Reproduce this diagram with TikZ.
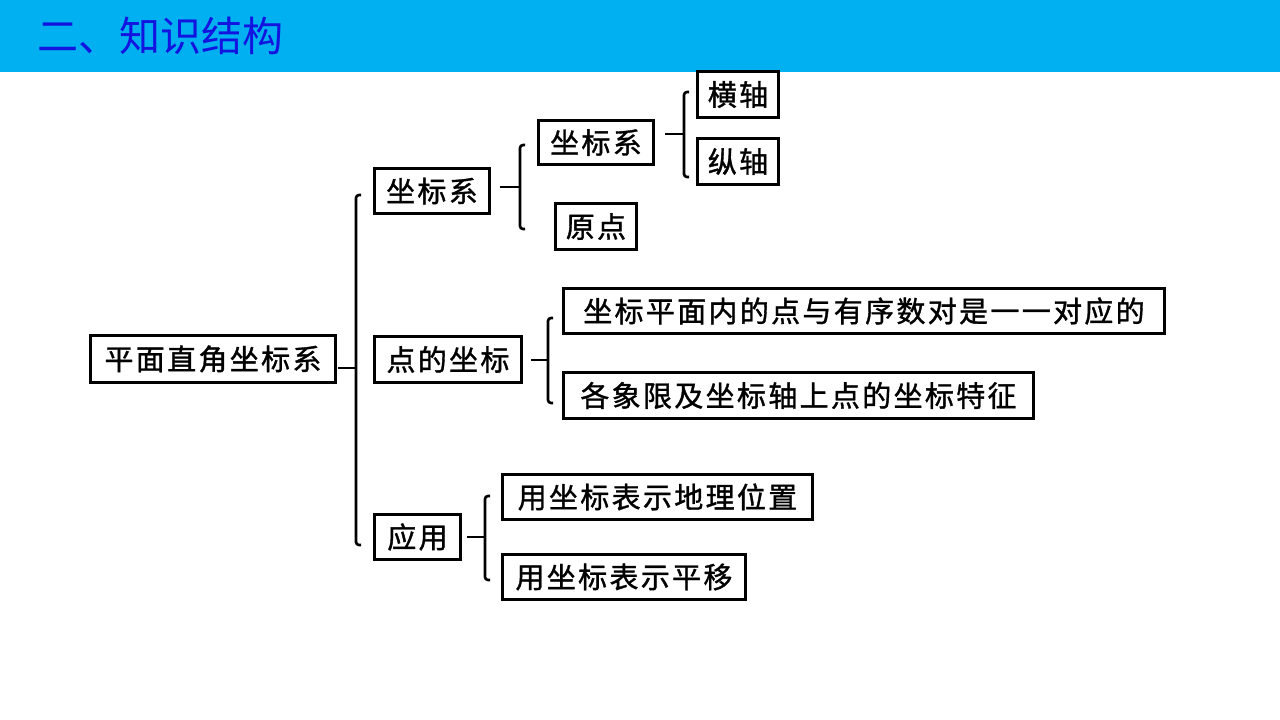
\documentclass[tikz,border=0pt]{standalone}
\usepackage{fontspec}
\newfontfamily\cjk[LetterSpace=8,FakeBold=1.2]{Noto Sans CJK SC}
\newfontfamily\cjktitle{Noto Sans CJK SC}
\definecolor{band}{RGB}{0,176,240}
\definecolor{titleblue}{RGB}{20,20,225}
\begin{document}
\begin{tikzpicture}[x=1pt,y=-1pt,
  box/.style={draw=black,line width=3pt,inner sep=0pt,minimum height=45pt,font=\cjk\fontsize{29}{31}\selectfont},
  brk/.style={line width=2.6pt,rounded corners=3pt}]
\useasboundingbox (0,0) rectangle (1280,720);
\fill[white] (0,0) rectangle (1280,720);
\fill[band] (0,0) rectangle (1280,72);
\node[anchor=west,text=titleblue,font=\cjktitle\fontsize{41}{44}\selectfont,inner sep=0pt] (title) at (37,36) {二、知识结构};
% nodes
\node[box,minimum width=245pt,minimum height=47pt] (root) at (213,359) {平面直角坐标系};
\node[box,minimum width=115pt] (A) at (432,191) {坐标系};
\node[box,minimum width=147pt,minimum height=46pt] (B) at (448,359.5) {点的坐标};
\node[box,minimum width=86pt] (C) at (417.5,537) {应用};
\node[box,minimum width=115pt,minimum height=44pt] (A1) at (596,142.5) {坐标系};
\node[box,minimum width=81pt,minimum height=46pt] (A2) at (596,226.5) {原点};
\node[box,minimum width=81pt,minimum height=46pt] (A11) at (738,94.5) {横轴};
\node[box,minimum width=81pt,minimum height=46pt] (A12) at (738,161.5) {纵轴};
\node[box,minimum width=601pt] (B1) at (864,311) {坐标平面内的点与有序数对是一一对应的};
\node[box,minimum width=470pt,minimum height=46pt] (B2) at (798.5,395.5) {各象限及坐标轴上点的坐标特征};
\node[box,minimum width=310pt] (C1) at (657.5,497) {用坐标表示地理位置};
\node[box,minimum width=243pt] (C2) at (624,577) {用坐标表示平移};
% bracket coordinates
\coordinate (r0) at (356,368);
\coordinate (a0) at (520,187);
\coordinate (a10) at (684,134);
\coordinate (b0) at (548,360);
\coordinate (c0) at (485,537);
% brackets
\draw[line width=2.6pt] ([xshift=1pt]root.east|-r0) -- (r0);
\draw[brk] (361,195) -- (356,195) -- (356,545) -- (361,545);
\draw[line width=2.6pt] ([xshift=9pt]A.east|-a0) -- (a0);
\draw[brk] (525,145) -- (520,145) -- (520,229) -- (525,229);
\draw[line width=2.6pt] ([xshift=10pt]A1.east|-a10) -- (a10);
\draw[brk] (689,92) -- (684,92) -- (684,177) -- (689,177);
\draw[line width=2.6pt] ([xshift=8pt]B.east|-b0) -- (b0);
\draw[brk] (553,318) -- (548,318) -- (548,403) -- (553,403);
\draw[line width=2.6pt] ([xshift=5pt]C.east|-c0) -- (c0);
\draw[brk] (490,496) -- (485,496) -- (485,580) -- (490,580);
\end{tikzpicture}
\end{document}
